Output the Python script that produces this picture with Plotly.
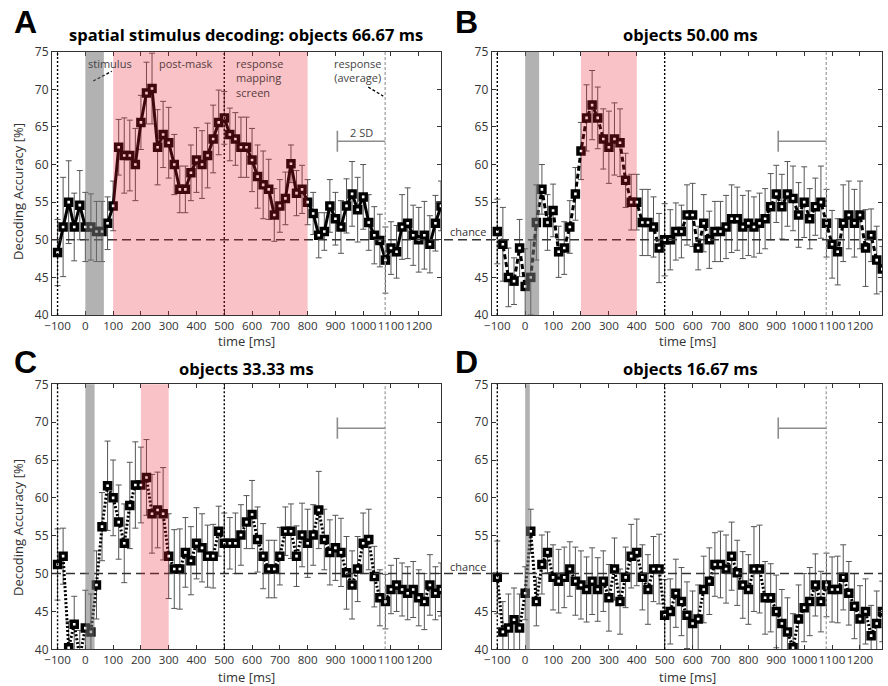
import plotly.graph_objects as go

# ---------------- data ----------------
time_ms = list(range(-100, 1281, 20))   # 70 time bins, 20 ms step

acc_A = [48.3, 51.7, 55.0, 51.7, 54.6, 51.7, 51.7, 51.1, 51.1, 52.2,
         54.5, 62.3, 61.2, 61.2, 60.0, 65.6, 69.5, 70.1, 62.3, 64.0,
         62.9, 60.0, 56.7, 56.7, 58.9, 60.6, 60.0, 61.2, 63.4, 65.6,
         66.2, 64.0, 63.4, 62.3, 62.3, 60.6, 58.4, 57.3, 56.7, 53.3,
         54.5, 55.5, 60.1, 56.2, 56.7, 55.0, 53.5, 50.6, 51.1, 54.5,
         52.8, 51.7, 54.5, 56.1, 54.0, 55.7, 52.3, 50.6, 49.9, 47.3,
         48.9, 48.4, 51.7, 52.2, 50.6, 50.0, 50.6, 49.4, 52.2, 54.5]
err_A = [4.4, 6.6, 5.5, 4.5, 4.6, 4.6, 4.4, 4.0, 4.0, 3.5,
         3.3, 3.7, 5.0, 4.7, 4.8, 3.6, 4.1, 4.7, 5.0, 4.4,
         4.7, 4.0, 3.1, 3.1, 3.7, 4.3, 4.5, 4.3, 4.5, 4.3,
         3.5, 3.5, 3.5, 4.0, 4.0, 4.2, 4.2, 4.5, 4.0, 3.5,
         3.5, 3.5, 2.5, 3.0, 3.2, 3.0, 2.8, 3.0, 2.5, 3.5,
         3.5, 3.5, 3.6, 4.3, 4.3, 4.3, 3.7, 3.8, 3.5, 4.4,
         3.5, 3.5, 4.3, 4.7, 4.0, 4.3, 4.5, 3.8, 3.7, 3.3]

acc_B = [51.1, 49.4, 45.0, 44.5, 48.9, 43.8, 45.0, 52.3, 56.7, 52.3,
         53.9, 48.4, 48.9, 51.7, 56.1, 61.8, 66.2, 67.9, 66.2, 63.4,
         62.3, 63.4, 62.9, 57.9, 55.0, 55.0, 52.3, 52.3, 51.7, 48.9,
         50.0, 50.0, 51.1, 51.1, 53.3, 53.3, 48.9, 52.2, 50.0, 51.1,
         51.1, 51.7, 52.8, 52.8, 51.7, 52.2, 51.7, 52.2, 52.8, 54.4,
         56.1, 54.4, 56.1, 55.5, 53.3, 55.0, 52.8, 54.4, 55.0, 52.2,
         49.4, 48.4, 52.2, 53.3, 52.2, 53.3, 48.9, 50.6, 47.3, 46.1]
err_B = [4.3, 4.9, 3.9, 3.1, 3.8, 5.0, 5.0, 5.0, 3.3, 3.7,
         3.5, 3.4, 3.5, 3.5, 3.5, 3.8, 4.4, 4.6, 4.1, 4.0,
         4.8, 4.8, 4.5, 3.6, 3.7, 3.7, 4.4, 4.4, 4.0, 4.6,
         4.8, 4.0, 3.8, 3.5, 4.0, 4.2, 2.9, 3.8, 3.8, 4.0,
         4.0, 4.2, 4.5, 4.2, 4.2, 4.3, 4.0, 4.0, 4.0, 4.4,
         3.8, 4.3, 4.3, 4.3, 4.3, 4.7, 4.0, 3.8, 4.8, 4.5,
         4.5, 4.4, 5.1, 4.5, 4.5, 4.5, 5.1, 3.5, 4.5, 3.0]

acc_C = [51.2, 52.3, 40.2, 43.3, 39.0, 42.8, 42.3, 48.5, 56.2, 61.6,
         60.0, 56.8, 54.0, 59.0, 61.7, 61.7, 62.7, 57.9, 58.4, 57.9,
         52.3, 50.6, 50.6, 52.8, 51.7, 54.0, 53.4, 52.3, 52.3, 55.6,
         54.0, 54.0, 54.0, 55.1, 56.8, 57.8, 54.5, 52.3, 50.6, 50.6,
         52.3, 55.6, 55.6, 52.3, 55.1, 54.0, 55.1, 58.4, 54.5, 52.8,
         53.4, 52.8, 50.1, 48.5, 50.6, 54.0, 54.5, 49.6, 46.8, 46.3,
         47.9, 48.5, 47.9, 47.4, 47.9, 46.8, 46.3, 48.5, 47.4, 47.9]
err_C = [4.7, 3.7, 3.5, 3.7, 3.5, 5.0, 5.0, 4.5, 4.5, 5.9,
         5.0, 4.9, 5.2, 5.7, 5.7, 5.0, 5.0, 5.2, 5.0, 6.1,
         5.6, 5.2, 5.3, 4.6, 4.5, 4.7, 4.5, 4.1, 4.2, 3.3,
         4.0, 3.4, 4.0, 4.0, 3.5, 4.5, 4.3, 4.3, 3.8, 3.8,
         3.8, 3.2, 3.6, 4.0, 4.2, 4.5, 4.0, 5.1, 4.0, 4.3,
         4.3, 4.5, 4.8, 4.5, 4.3, 4.0, 4.0, 4.0, 3.7, 3.6,
         3.2, 3.5, 3.5, 3.5, 3.7, 3.7, 3.7, 4.0, 3.5, 3.5]

acc_D = [49.5, 42.3, 42.8, 43.9, 42.8, 47.4, 55.6, 46.3, 51.2, 52.8,
         49.5, 49.0, 49.5, 50.6, 49.0, 48.5, 47.9, 49.0, 47.9, 49.0,
         46.8, 50.6, 46.3, 49.5, 52.3, 52.8, 49.5, 47.9, 50.6, 50.6,
         44.5, 45.0, 47.4, 46.3, 44.5, 43.4, 44.0, 47.9, 49.0, 51.2,
         51.2, 50.6, 52.3, 50.1, 48.5, 47.9, 50.6, 50.6, 46.8, 46.8,
         45.0, 43.4, 42.3, 40.2, 44.0, 45.5, 46.3, 48.5, 46.3, 48.5,
         47.9, 47.9, 49.5, 47.4, 45.7, 44.0, 45.0, 41.8, 43.4, 45.0]
err_D = [4.8, 4.0, 4.5, 4.2, 4.5, 3.5, 2.9, 3.2, 3.9, 2.7,
         4.3, 4.2, 4.0, 3.6, 4.5, 4.5, 4.3, 4.4, 4.2, 4.0,
         4.4, 4.1, 4.3, 4.0, 4.2, 4.4, 4.3, 4.6, 4.3, 4.6,
         4.7, 4.3, 4.5, 4.5, 4.4, 4.3, 4.5, 4.4, 4.4, 4.2,
         4.4, 4.5, 4.5, 4.3, 4.4, 4.6, 5.6, 5.8, 4.8, 4.5,
         4.8, 4.5, 4.5, 4.5, 4.5, 4.5, 4.5, 4.1, 4.0, 4.2,
         4.3, 4.4, 4.3, 4.2, 4.3, 4.4, 4.3, 4.0, 4.3, 4.0]

panel_letters = ["A", "B", "C", "D"]
panel_titles = ["spatial stimulus decoding: objects 66.67 ms", "objects 50.00 ms",
                "objects 33.33 ms", "objects 16.67 ms"]
stim_duration = [66.67, 50.0, 33.33, 16.67]
sig_windows = [(100, 800), (200, 400), (200, 300), None]
line_dashes = ["solid", "5px,3px", "2px,2px", "2px,2px"]
sd_bar_y = [63.1, 63.1, 69.2, 69.2]
sd_bar = (907, 1079)          # response time: mean - 2 SD ... mean
mask_onset = 500
baseline_start = -100
chance = 50

x_tickvals = list(range(-100, 1201, 100))
x_ticktext = ["\u2212100"] + [str(v) for v in range(0, 1201, 100)]
y_tickvals = [40, 45, 50, 55, 60, 65, 70, 75]
y_ticktext_left = ["40", "45", "50", "55", "60", "65", "70", "75"]
y_ticktext_right = ["40", "45", "", "55", "60", "65", "70", "75"]

# ---------------- layout geometry ----------------
W, H = 888, 686
def px(x):
    return x / W
def py(y):
    return 1 - y / H

col_dom = [[px(52), px(441)], [px(491.7), px(882.3)]]
row_dom = [[py(315), py(51.7)], [py(649.3), py(384.3)]]

FONT = "Open Sans"
TXT = "#333333"

fig = go.Figure()
layout = dict(
    template="none",
    width=W, height=H, margin=dict(l=0, r=0, t=0, b=0, pad=0, autoexpand=False),
    paper_bgcolor="white", plot_bgcolor="white", showlegend=False,
    font=dict(family=FONT, size=12, color=TXT),
)
shapes = []
annotations = []

def note(x, y, text, size, color=TXT, family=FONT, xref="paper", yref="paper",
         xanchor="center", align="center", angle=0):
    annotations.append(dict(xref=xref, yref=yref, x=x, y=y, text=text, showarrow=False,
                            xanchor=xanchor, yanchor="middle", align=align,
                            textangle=angle,
                            font=dict(family=family, size=size, color=color)))

accs = [acc_A, acc_B, acc_C, acc_D]
errs = [err_A, err_B, err_C, err_D]

for i in range(4):
    r, c = divmod(i, 2)
    n = "" if i == 0 else str(i + 1)
    xa, ya = "x" + n, "y" + n
    layout["xaxis" + n] = dict(
        domain=col_dom[c], anchor=ya, range=[-120, 1280], automargin=False,
        tickvals=x_tickvals, ticktext=x_ticktext, tickangle=0,
        ticks="inside", ticklen=4,
        tickcolor="#333", showline=True, linecolor="#333", linewidth=1,
        mirror="ticks", showgrid=False, zeroline=False,
        tickfont=dict(family=FONT, size=11.6, color=TXT),
    )
    layout["yaxis" + n] = dict(
        domain=row_dom[r], anchor=xa, range=[40, 75], automargin=False,
        tickvals=y_tickvals, ticktext=y_ticktext_left if c == 0 else y_ticktext_right,
        ticks="inside", ticklen=4, tickcolor="#333",
        showline=True, linecolor="#333", linewidth=1, mirror="ticks",
        showgrid=False, zeroline=False,
        tickfont=dict(family=FONT, size=12, color=TXT),
    )

    fig.add_trace(go.Scatter(
        x=time_ms, y=accs[i], xaxis=xa, yaxis=ya, mode="lines+markers",
        line=dict(color="black", width=3, dash=line_dashes[i]),
        marker=dict(symbol="square", size=9.5, color="black", line=dict(width=0)),
        error_y=dict(type="data", array=errs[i], color="#555555",
                     thickness=1, width=3),
        hoverinfo="skip",
    ))
    fig.add_trace(go.Scatter(
        x=time_ms, y=accs[i], xaxis=xa, yaxis=ya, mode="markers",
        marker=dict(symbol="square", size=2.6, color="white", line=dict(width=0)),
        hoverinfo="skip",
    ))

    dom = ya + " domain"
    shapes.append(dict(type="line", xref=xa, yref=dom, x0=baseline_start, x1=baseline_start,
                       y0=0, y1=1, line=dict(color="black", width=1.4, dash="2px,2px")))
    shapes.append(dict(type="line", xref=xa, yref=dom, x0=mask_onset, x1=mask_onset,
                       y0=0, y1=1, line=dict(color="black", width=1.4, dash="2px,2px")))
    shapes.append(dict(type="line", xref=xa, yref=dom, x0=sd_bar[1], x1=sd_bar[1],
                       y0=0, y1=1, line=dict(color="#9a9a9a", width=1.2, dash="3px,2px")))
    shapes.append(dict(type="line", xref=xa, yref=ya, x0=sd_bar[0], x1=sd_bar[1],
                       y0=sd_bar_y[i], y1=sd_bar_y[i], line=dict(color="#8c8c8c", width=1.6)))
    shapes.append(dict(type="line", xref=xa, yref=ya, x0=sd_bar[0], x1=sd_bar[0],
                       y0=sd_bar_y[i] - 1.4, y1=sd_bar_y[i] + 1.4,
                       line=dict(color="#8c8c8c", width=1.6)))

    note(px([25, 466][c]), py([22, 362][r]), "<b>%s</b>" % panel_letters[i], 32,
         color="black", family="Liberation Sans")
    note(px([246, 690][c]), py([35, 369][r]), "<b>%s</b>" % panel_titles[i], 16.5,
         color="black")
    note(px([246, 687][c]), py([341.5, 676.5][r]), "time [ms]", 13)
    if c == 0:
        note(px(18), py([192, 528][r]), "Decoding Accuracy [%]", 13, angle=-90)
    else:
        note(px(468), py([231.5, 566.5][r]), "chance", 11)

for r, ya in enumerate(["y", "y3"]):
    shapes.append(dict(type="line", xref="paper", yref=ya, x0=col_dom[0][0], x1=col_dom[1][1],
                       y0=chance, y1=chance, line=dict(color="#333333", width=1.5, dash="9px,5px")))

shapes.append(dict(type="line", xref="x", yref="y", x0=28, y0=71.1, x1=95, y1=72.4,
                   line=dict(color="black", width=1.3, dash="3px,2px")))
shapes.append(dict(type="line", xref="x", yref="y", x0=1018, y0=70.3, x1=1072, y1=69.1,
                   line=dict(color="black", width=1.3, dash="3px,2px")))

for i in range(4):
    n = "" if i == 0 else str(i + 1)
    xa, dom = "x" + n, "y" + n + " domain"
    shapes.append(dict(type="rect", xref=xa, yref=dom, x0=0, x1=stim_duration[i], y0=0, y1=1,
                       fillcolor="rgba(115,115,115,0.55)", line=dict(width=0), layer="above"))
    if sig_windows[i] is not None:
        a, b = sig_windows[i]
        shapes.append(dict(type="rect", xref=xa, yref=dom, x0=a, x1=b, y0=0, y1=1,
                           fillcolor="rgba(228,30,48,0.27)", line=dict(width=0), layer="above"))

note(89, 73.4, "stimulus", 11, color="#444444", xref="x", yref="y")
note(362, 73.4, "post-mask", 11, color="#5a3c3e", xref="x", yref="y")
note(535, 71.5, "response<br>mapping<br>screen", 11, color="#5a3c3e", xref="x", yref="y",
     xanchor="left", align="left")
note(981, 72.5, "response<br>(average)", 11, color="#444444", xref="x", yref="y")
note(995, 64.3, "2 SD", 11, color="#444444", xref="x", yref="y")

layout["shapes"] = shapes
layout["annotations"] = annotations
fig.update_layout(**layout)
fig.write_html("out.html", config={"displayModeBar": False},
               post_script="document.body.style.margin='0';document.body.style.padding='0';")
